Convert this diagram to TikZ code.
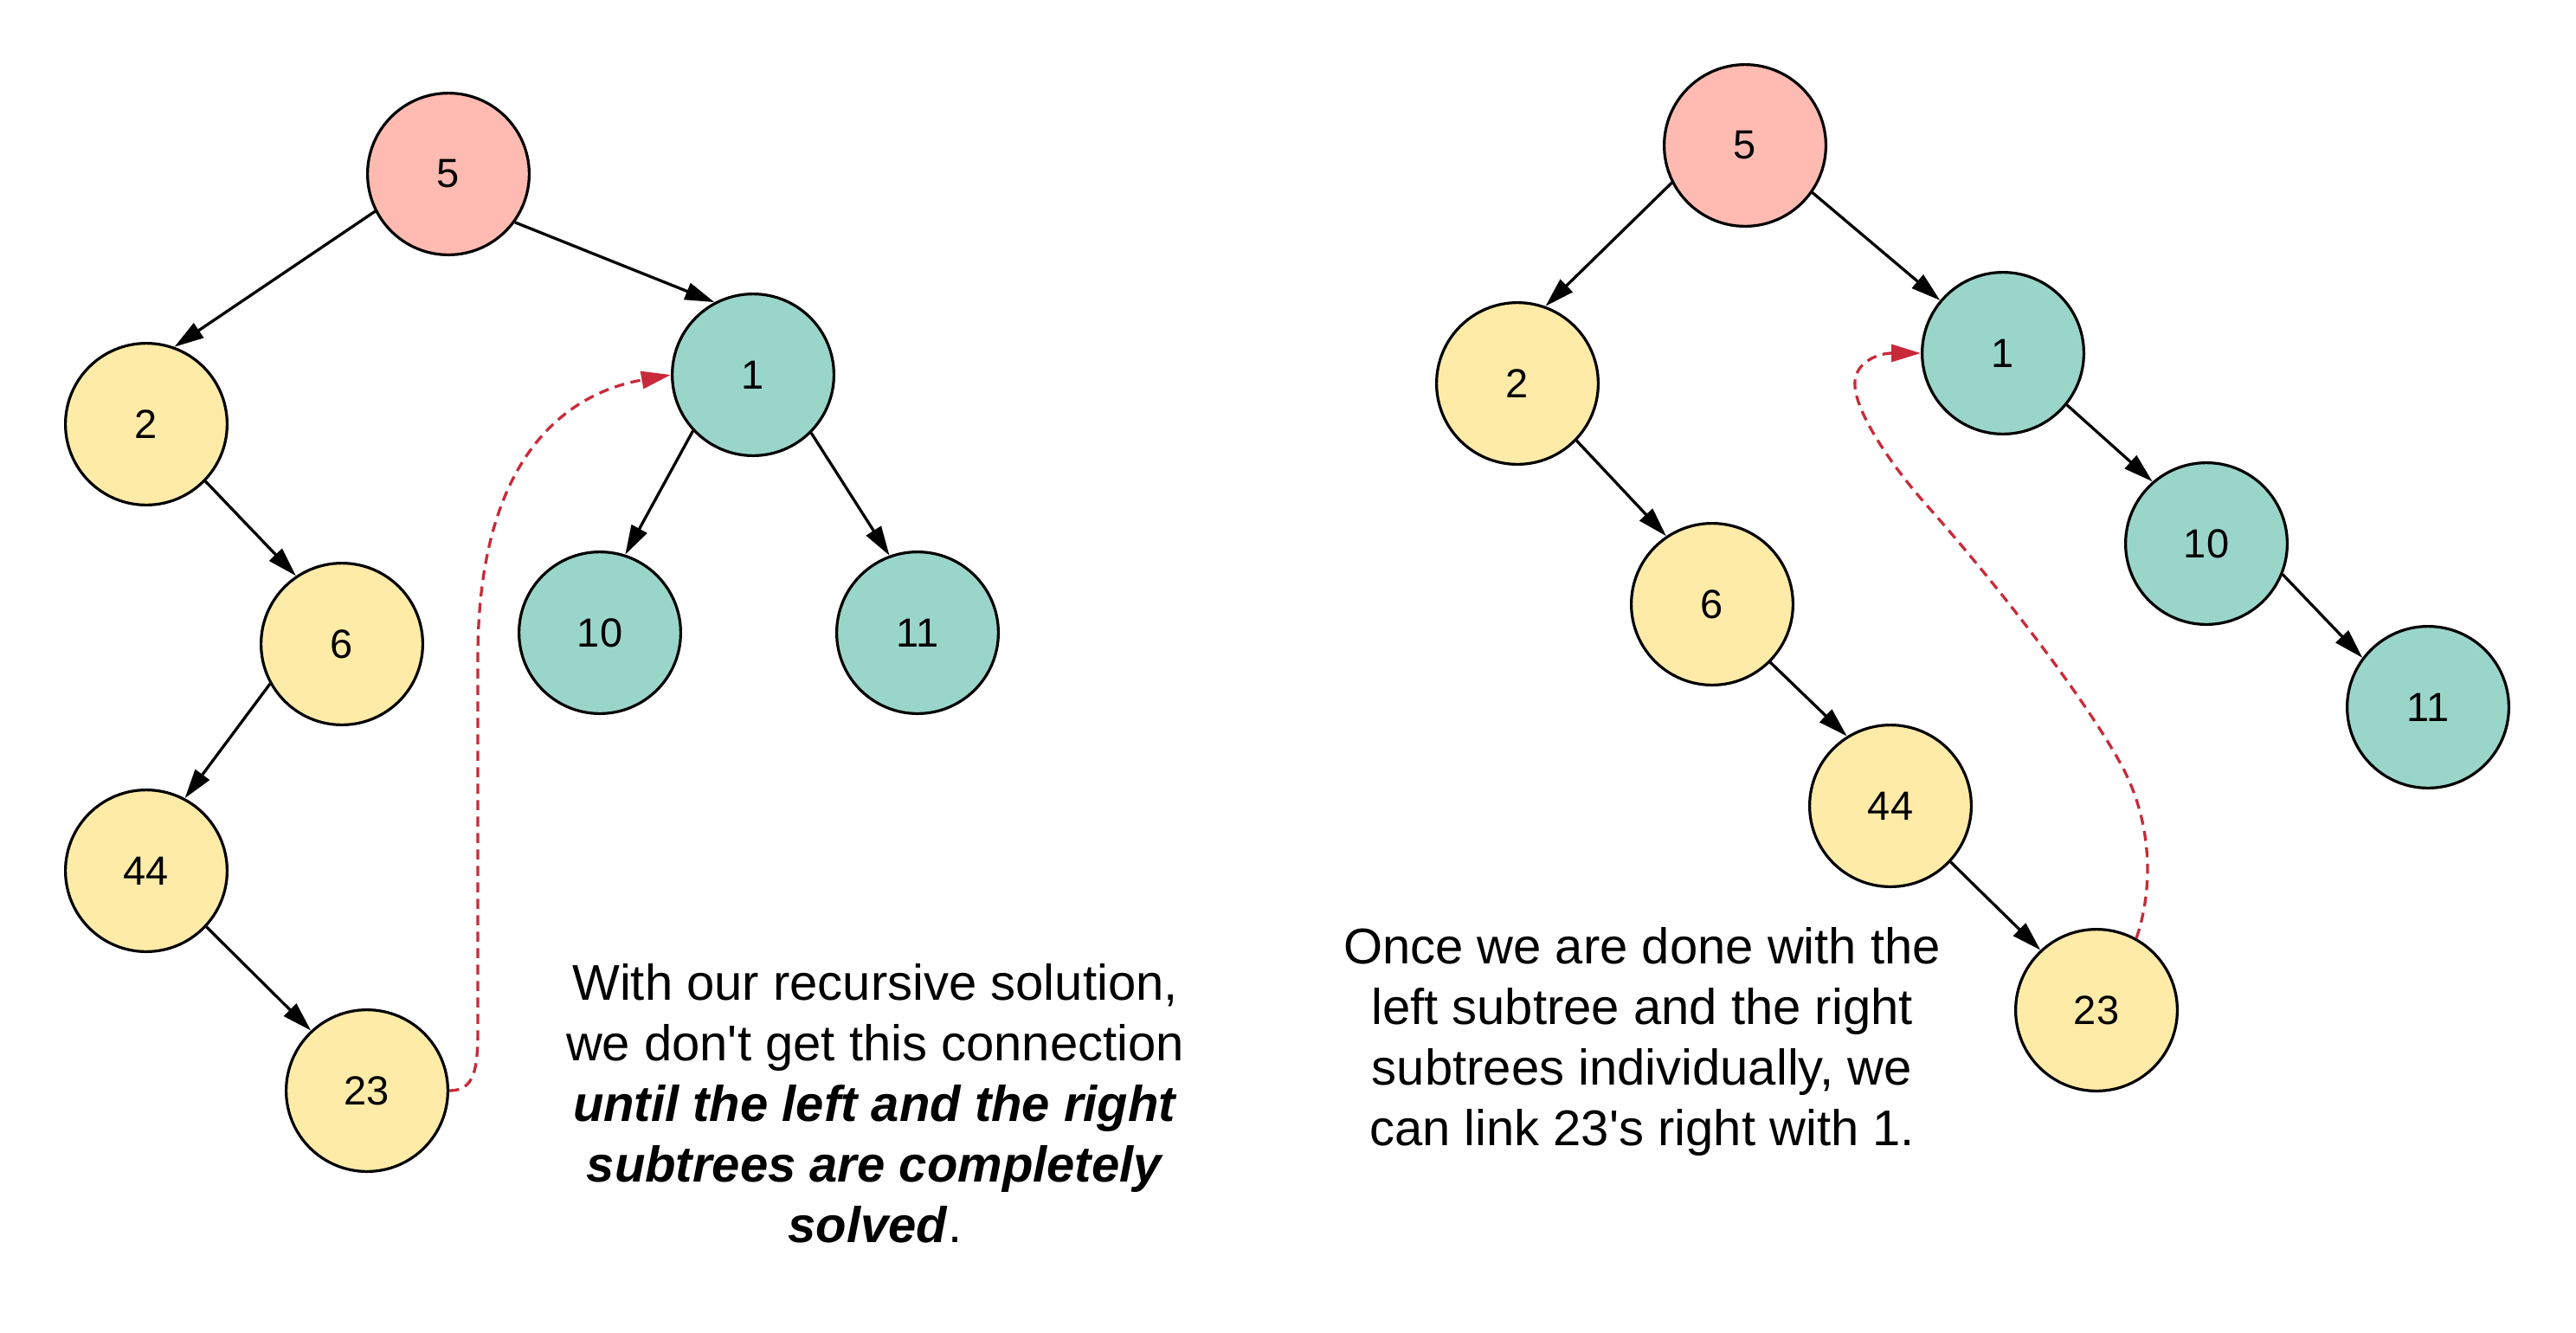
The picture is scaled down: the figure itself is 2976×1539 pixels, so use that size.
\documentclass[tikz,border=0pt]{standalone}
\usepackage{fontspec}
\setmainfont{Liberation Sans}
\usetikzlibrary{arrows.meta}
\definecolor{pinkfill}{HTML}{FFBBB1}
\definecolor{yellowfill}{HTML}{FFEBA8}
\definecolor{tealfill}{HTML}{9AD5CA}
\definecolor{linkred}{HTML}{C82A3A}
\begin{document}
\begin{tikzpicture}[x=0.5pt,y=-0.5pt,
  treenode/.style={circle,draw=black,line width=1.6pt,minimum size=93.4pt,inner sep=0pt,
    font=\fontsize{23.5}{28}\selectfont},
  rootnode/.style={treenode,fill=pinkfill},
  leftnode/.style={treenode,fill=yellowfill},
  rightnode/.style={treenode,fill=tealfill},
  edge/.style={line width=1.65pt,-{Triangle[length=17pt,width=10pt]}},
  link/.style={line width=1.65pt,draw=linkred,dash pattern=on 5.75pt off 3.75pt,
    -{Triangle[length=17pt,width=10pt]}},
  caption/.style={anchor=base,inner sep=0pt,font=\fontsize{29}{35}\selectfont}]
\useasboundingbox (0,0) rectangle (2976,1539);

% left tree
\node[rootnode]  (L5)  at (518,201)  {5};
\node[leftnode]  (L2)  at (169,490)  {2};
\node[leftnode]  (L6)  at (395,744)  {6};
\node[leftnode]  (L44) at (169,1006) {44};
\node[leftnode]  (L23) at (424,1260) {23};
\node[rightnode] (L1)  at (870,433)  {1};
\node[rightnode] (L10) at (693,731)  {10};
\node[rightnode] (L11) at (1060,731) {11};

\draw[edge] (L5.207.5) -- (L2.70.5);
\draw[edge] (L5.324) -- (L1.118);
\draw[edge] (L2.316) -- (L6.124.5);
\draw[edge] (L6.209) -- (L44.62.7);
\draw[edge] (L44.317.5) -- (L23.133.7);
\draw[edge] (L1.223) -- (L10.72.4);
\draw[edge] (L1.315) -- (L11.110.6);

\draw[link] (L23.east) .. controls (548,1260) and (552,1236) .. (552,1190)
  -- (552,760) .. controls (552,500) and (680,450) .. (L1.west);

% right tree
\node[rootnode]  (R5)  at (2016,168) {5};
\node[leftnode]  (R2)  at (1753,443) {2};
\node[leftnode]  (R6)  at (1978,698) {6};
\node[leftnode]  (R44) at (2184,931) {44};
\node[leftnode]  (R23) at (2422,1167) {23};
\node[rightnode] (R1)  at (2314,408) {1};
\node[rightnode] (R10) at (2549,628) {10};
\node[rightnode] (R11) at (2805,817) {11};

\draw[edge] (R5.207.4) -- (R2.70.5);
\draw[edge] (R5.325) -- (R1.140.5);
\draw[edge] (R2.316) -- (R6.124);
\draw[edge] (R6.315.4) -- (R44.122.4);
\draw[edge] (R44.317) -- (R23.133.2);
\draw[edge] (R1.321.7) -- (R10.131.7);
\draw[edge] (R10.338.6) -- (R11.143.8);

\draw[link] (R23.61) .. controls (2485,1035) and (2490,960) .. (2453,888)
  .. controls (2416,818) and (2320,690) .. (2227,585)
  .. controls (2180,532) and (2140,470) .. (2143,440)
  .. controls (2145,418) and (2170,408) .. (R1.west);

% captions
\node[caption] (lt1) at (1011,1155) {With our recursive solution,};
\node[caption] (lt2) at (1011,1225) {we don\textquotesingle t get this connection};
\node[caption] (lt3) at (1011,1295) {\textbf{\textit{until the left and the right}}};
\node[caption] (lt4) at (1011,1365) {\textbf{\textit{subtrees are completely}}};
\node[caption] (lt5) at (1011,1435) {\textbf{\textit{solved}}.};

\node[caption] (rt1) at (1897,1113) {Once we are done with the};
\node[caption] (rt2) at (1897,1183) {left subtree and the right};
\node[caption] (rt3) at (1897,1253) {subtrees individually, we};
\node[caption] (rt4) at (1897,1323) {can link 23\textquotesingle s right with 1.};
\end{tikzpicture}
\end{document}
